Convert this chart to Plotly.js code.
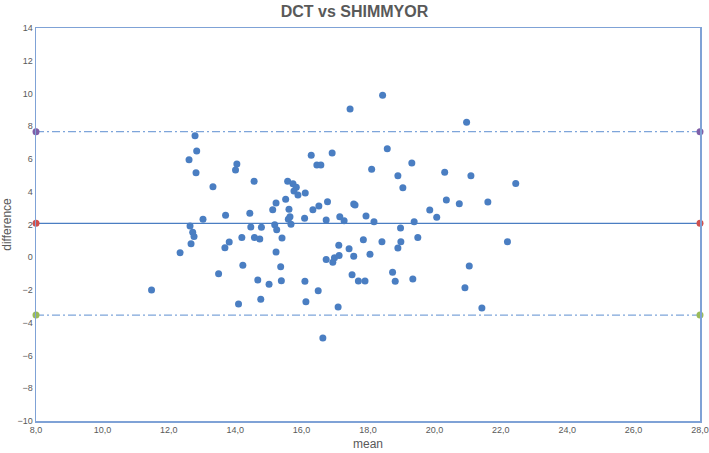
<!DOCTYPE html>
<html>
<head>
<meta charset="utf-8">
<script src="https://cdn.plot.ly/plotly-3.0.1.min.js"></script>
<style>html,body{margin:0;padding:0;background:#fff;}#chart{width:709px;height:453px;}</style>
</head>
<body>
<div id="chart"></div>
<script>
const meanVals = [11.48,12.34,12.64,12.72,12.76,12.67,12.61,12.79,12.84,12.82,13.03,13.33,13.50,13.69,13.71,13.82,14.05,14.01,14.10,14.20,14.23,14.44,14.47,14.57,14.58,14.68,14.74,14.77,14.79,15.02,15.13,15.19,15.23,15.25,15.23,15.37,15.39,15.41,15.52,15.58,15.60,15.65,15.62,15.68,15.74,15.84,15.77,15.89,16.11,16.09,16.10,16.13,16.29,16.34,16.46,16.58,16.52,16.50,16.64,16.74,16.78,16.74,16.92,16.94,16.99,17.13,17.12,17.10,17.15,17.28,17.43,17.46,17.52,17.57,17.57,17.61,17.71,17.86,17.91,17.94,18.06,18.11,18.18,18.42,18.44,18.58,18.74,18.82,18.90,18.90,18.98,18.99,19.05,19.32,19.35,19.39,19.50,19.86,20.07,20.31,20.36,20.75,20.92,20.97,21.05,21.10,21.43,21.61,22.20,22.45];
const diffVals = [-2.00,0.28,1.91,1.52,1.26,0.83,5.96,7.42,6.49,5.16,2.32,4.31,-1.00,0.58,2.56,0.93,5.69,5.33,-2.85,1.20,-0.49,2.68,1.85,4.64,1.20,-1.39,1.11,-2.57,1.83,-1.65,2.90,1.99,3.31,1.68,0.32,-0.58,-1.43,1.18,3.54,4.64,2.32,2.48,2.93,2.01,4.49,4.27,4.05,3.80,3.92,2.38,-1.47,-2.71,6.23,2.90,5.63,5.63,3.13,-2.04,-4.93,2.27,3.39,-0.13,6.37,-0.31,-0.03,0.10,0.73,-3.04,2.48,2.23,0.52,9.05,-1.07,0.06,3.25,3.19,-1.45,1.07,-1.45,2.52,0.18,5.37,2.17,0.95,9.89,6.63,-0.92,-1.47,0.56,4.98,1.79,0.95,4.25,5.76,-1.33,2.17,1.20,2.89,2.44,5.19,3.50,3.27,-1.86,8.24,-0.53,4.98,-3.10,3.37,0.95,4.51];
const lineX = [8, 28];
const meanDiff = 2.07;
const upperLoA = 7.67;
const lowerLoA = -3.53;
const xTicks = [8,10,12,14,16,18,20,22,24,26,28];
const yTicks = [-10,-8,-6,-4,-2,0,2,4,6,8,10,12,14];

const fontFam = 'Liberation Sans, Arial, sans-serif';
const traces = [
  {x: meanVals, y: diffVals, mode: 'markers', type: 'scatter',
   marker: {color: '#4A7EC2', size: 7}, hoverinfo: 'x+y'},
  {x: lineX, y: [upperLoA, upperLoA], mode: 'lines+markers', type: 'scatter',
   line: {color: '#7EA5DA', width: 1.3, dash: '8px,3px,2px,3px'},
   marker: {color: '#7F5FA8', size: 7}, cliponaxis: false},
  {x: lineX, y: [meanDiff, meanDiff], mode: 'lines+markers', type: 'scatter',
   line: {color: '#4A7EC2', width: 1.3},
   marker: {color: '#D0504D', size: 7}, cliponaxis: false},
  {x: lineX, y: [lowerLoA, lowerLoA], mode: 'lines+markers', type: 'scatter',
   line: {color: '#7EA5DA', width: 1.3, dash: '8px,3px,2px,3px'},
   marker: {color: '#9BBB59', size: 7}, cliponaxis: false}
];

const layout = {
  width: 709, height: 453,
  margin: {l: 36, r: 9, t: 28, b: 32},
  paper_bgcolor: '#fff', plot_bgcolor: '#fff',
  showlegend: false,
  separators: ', ',
  title: {text: '<b>DCT vs SHIMMYOR</b>', x: 0.5, xanchor: 'center', y: 0.975, yanchor: 'middle',
          font: {family: fontFam, size: 16, color: '#595959'}},
  xaxis: {range: [8, 28], tickvals: xTicks, tickformat: '.1f', showgrid: false, zeroline: false,
          showline: true, linecolor: '#7FA2D6', linewidth: 1.5, mirror: true, ticks: '',
          tickfont: {family: fontFam, size: 9, color: '#595959'},
          title: {text: 'mean', standoff: 5, font: {family: fontFam, size: 12, color: '#595959'}}},
  yaxis: {range: [-10, 14], tickvals: yTicks, showgrid: false, zeroline: false,
          showline: true, linecolor: '#7FA2D6', linewidth: 1.5, mirror: true, ticks: '',
          tickfont: {family: fontFam, size: 9, color: '#595959'},
          title: {text: 'difference', standoff: 5, font: {family: fontFam, size: 12, color: '#595959'}}}
};
Plotly.newPlot('chart', traces, layout, {displayModeBar: false, staticPlot: true});
</script>
</body>
</html>
